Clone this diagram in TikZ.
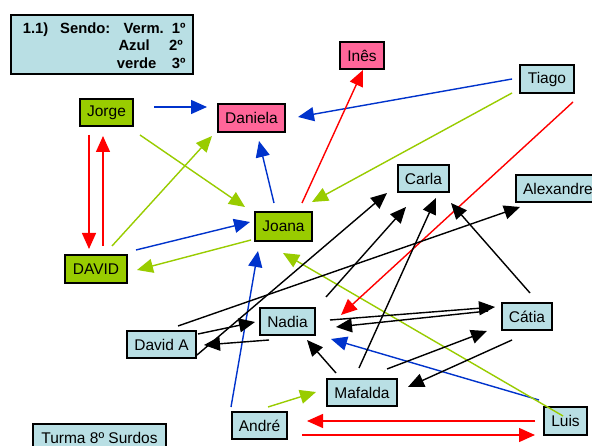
\documentclass[tikz,border=0pt]{standalone}
\usepackage{fontspec}
\setmainfont{Liberation Sans}
\usetikzlibrary{arrows.meta}
\definecolor{gfill}{RGB}{153,204,0}
\definecolor{pfill}{RGB}{255,102,153}
\definecolor{bfill}{RGB}{185,223,228}
\definecolor{arrblue}{RGB}{0,51,204}
\definecolor{arrgreen}{RGB}{153,204,0}
\definecolor{arrred}{RGB}{255,0,0}
\tikzset{
  box/.style={draw=black, line width=1.6pt, inner sep=0pt, font=\fontsize{15.5}{18}\selectfont},
  gbox/.style={box, fill=gfill},
  pbox/.style={box, fill=pfill},
  bbox/.style={box, fill=bfill},
  lgtext/.style={anchor=base west, inner sep=0pt, font=\bfseries\fontsize{14.8}{17}\selectfont},
  conn/.style={line width=1.4pt, -{Triangle[length=16pt,width=14pt]}},
  ablue/.style={conn, draw=arrblue, fill=arrblue},
  agreen/.style={conn, draw=arrgreen, fill=arrgreen},
  ared/.style={conn, draw=arrred, fill=arrred},
  ablack/.style={conn, draw=black, fill=black},
}
\begin{document}
\begin{tikzpicture}[x=1pt,y=-1pt]
\fill[white] (0,0) rectangle (592,446);
\useasboundingbox (0,0) rectangle (592,446);
% legend
\node[bbox, minimum width=182pt, minimum height=59pt] (legend) at (102,44.5) {};
\node[lgtext] (lg1) at (22.7,33.3) {1.1)};
\node[lgtext] (lg2) at (60,33.3) {Sendo:};
\node[lgtext] (lg3) at (123.3,33.3) {Verm.};
\node[lgtext] (lg4) at (171.7,33.3) {1º};
\node[lgtext] (lg5) at (118.3,51) {Azul};
\node[lgtext] (lg6) at (169,51) {2º};
\node[lgtext] (lg7) at (116.7,69) {verde};
\node[lgtext] (lg8) at (171.7,69) {3º};
% people
\node[gbox, minimum width=53.5pt, minimum height=27.5pt] (Jorge) at (106.5,112.5) {Jorge};
\node[pbox, minimum width=67.5pt, minimum height=28.5pt] (Daniela) at (251.5,118) {Daniela};
\node[pbox, minimum width=44.5pt, minimum height=27.5pt] (Ines) at (362,55.5) {Inês};
\node[bbox, minimum width=54.5pt, minimum height=28.5pt] (Tiago) at (547,79) {Tiago};
\node[gbox, minimum width=57.5pt, minimum height=29.5pt] (Joana) at (283.5,226.5) {Joana};
\node[gbox, minimum width=62.5pt, minimum height=28.5pt] (DAVID) at (96,269) {DAVID};
\node[bbox, minimum width=51.5pt, minimum height=27.5pt] (Carla) at (423.5,178.5) {Carla};
\node[bbox, minimum width=81.5pt, minimum height=27.5pt, text width=67pt, align=left] (Alexandre) at (556.5,188.5) {Alexandre};
\node[bbox, minimum width=55.5pt, minimum height=27.5pt] (Nadia) at (287.5,321.5) {Nadia};
\node[bbox, minimum width=69.5pt, minimum height=27.5pt] (DavidA) at (161.5,344.5) {David A};
\node[bbox, minimum width=50.5pt, minimum height=27.5pt] (Catia) at (527,316.5) {Cátia};
\node[bbox, minimum width=70.5pt, minimum height=27.5pt] (Mafalda) at (362,392.5) {Mafalda};
\node[bbox, minimum width=55.5pt, minimum height=27.5pt] (Andre) at (259.5,425.5) {André};
\node[bbox, minimum width=43.5pt, minimum height=28.5pt] (Luis) at (565.5,421) {Luis};
\node[bbox, minimum width=133.5pt, minimum height=28.5pt] (Turma) at (99.5,438) {Turma 8º Surdos};
% blue
\draw[ablue] ([shift={(47.5,-5.5)}]Jorge.center) -- ([shift={(-44.5,-11)}]Daniela.center);
\draw[ablue] ([shift={(-35,0)}]Tiago.center) -- ([shift={(46.5,-1)}]Daniela.center);
\draw[ablue] ([shift={(-9.5,-23.5)}]Joana.center) -- ([shift={(7.5,23)}]Daniela.center);
\draw[ablue] ([shift={(40,-19)}]DAVID.center) -- ([shift={(-33.5,-4.5)}]Joana.center);
\draw[ablue] ([shift={(-28.5,-18.5)}]Andre.center) -- ([shift={(-25.5,24.5)}]Joana.center);
\draw[ablue] ([shift={(-26.5,-21)}]Luis.center) -- ([shift={(43.5,17.5)}]Nadia.center);
% green
\draw[agreen] ([shift={(33.5,22.5)}]Jorge.center) -- ([shift={(-38.5,-19.5)}]Joana.center);
\draw[agreen] ([shift={(16,-23)}]DAVID.center) -- ([shift={(-39.5,18)}]Daniela.center);
\draw[agreen] ([shift={(-35,14)}]Tiago.center) -- ([shift={(28.5,-24.5)}]Joana.center);
\draw[agreen] ([shift={(-32.5,13.5)}]Joana.center) -- ([shift={(41,1)}]DAVID.center);
\draw[agreen] ([shift={(-2.5,-5)}]Luis.center) -- ([shift={(-0.5,26.5)}]Joana.center);
\draw[agreen] ([shift={(8.5,-18.5)}]Andre.center) -- ([shift={(-46,-0.5)}]Mafalda.center);
% red
\draw[ared] ([shift={(-17.5,22.5)}]Jorge.center) -- ([shift={(-7,-20)}]DAVID.center);
\draw[ared] ([shift={(7,-23)}]DAVID.center) -- ([shift={(-3.5,23.5)}]Jorge.center);
\draw[ared] ([shift={(18.5,-23.5)}]Joana.center) -- ([shift={(1,14.5)}]Ines.center);
\draw[ared] ([shift={(26,23)}]Tiago.center) -- ([shift={(53.5,-6.5)}]Nadia.center);
\draw[ared] ([shift={(-30.5,0)}]Luis.center) -- ([shift={(47.5,-4.5)}]Andre.center);
\draw[ared] ([shift={(42.5,9.5)}]Andre.center) -- ([shift={(-30.5,14)}]Luis.center);
% black
\draw[ablack] ([shift={(16.5,-18.5)}]DavidA.center) -- ([shift={(-36.5,18.5)}]Alexandre.center);
\draw[ablack] ([shift={(35.5,10.5)}]DavidA.center) -- ([shift={(-36.5,14.5)}]Carla.center);
\draw[ablack] ([shift={(36.5,-10.5)}]DavidA.center) -- ([shift={(-32.5,0.5)}]Nadia.center);
\draw[ablack] ([shift={(-18.5,18.5)}]Nadia.center) -- ([shift={(42.5,0.5)}]DavidA.center);
\draw[ablack] ([shift={(38.5,-24.5)}]Nadia.center) -- ([shift={(-17.5,28.5)}]Carla.center);
\draw[ablack] ([shift={(-3,-24.5)}]Mafalda.center) -- ([shift={(12.5,19.5)}]Carla.center);
\draw[ablack] ([shift={(3,-23.5)}]Catia.center) -- ([shift={(27.5,24.5)}]Carla.center);
\draw[ablack] ([shift={(42.5,-1.5)}]Nadia.center) -- ([shift={(-32,-9.5)}]Catia.center);
\draw[ablack] ([shift={(-39,-5.5)}]Catia.center) -- ([shift={(48.5,5.5)}]Nadia.center);
\draw[ablack] ([shift={(-26,-19.5)}]Mafalda.center) -- ([shift={(19.5,18.5)}]Nadia.center);
\draw[ablack] ([shift={(25,-23.5)}]Mafalda.center) -- ([shift={(-40,14.5)}]Catia.center);
\draw[ablack] ([shift={(-15,23.5)}]Catia.center) -- ([shift={(46,-5.5)}]Mafalda.center);
\end{tikzpicture}
\end{document}
